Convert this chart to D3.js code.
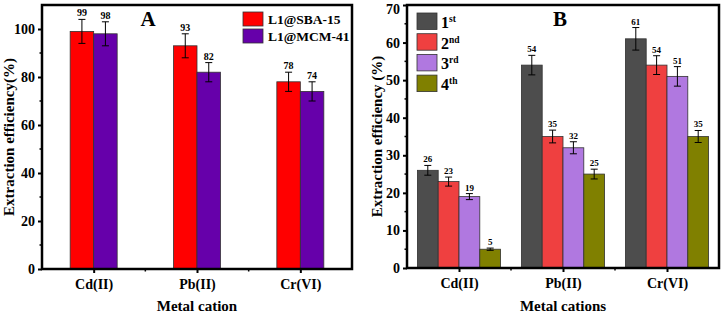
<!DOCTYPE html>
<html>
<head>
<meta charset="utf-8">
<script src="https://cdn.jsdelivr.net/npm/d3@7"></script>
<style>
  body { margin: 0; background: #fff; }
  svg text { font-family: "Liberation Serif", "Times New Roman", serif; font-weight: bold; fill: #000; }
</style>
</head>
<body>
<script>
'use strict';

// panel A data
const metalsA = ["Cd(II)", "Pb(II)", "Cr(VI)"];
const seriesA = ["L1@SBA-15", "L1@MCM-41"];
const sbaValues = [99, 93, 78];
const sbaErrors = [5, 5, 4];
const mcmValues = [98, 82, 74];
const mcmErrors = [5, 4, 4];
const ticksA = [0, 20, 40, 60, 80, 100];

// panel B data
const metalsB = ["Cd(II)", "Pb(II)", "Cr(VI)"];
const cycles = [["1", "st"], ["2", "nd"], ["3", "rd"], ["4", "th"]];
const cycle1 = [26, 54, 61];
const cycle2 = [23, 35, 54];
const cycle3 = [19, 32, 51];
const cycle4 = [5, 25, 35];
const err1 = [1.3, 2.6, 3];
const err2 = [1.2, 1.7, 2.5];
const err3 = [0.8, 1.6, 2.6];
const err4 = [0.3, 1.3, 1.6];
const ticksB = [0, 10, 20, 30, 40, 50, 60, 70];

const svg = d3.select("body").append("svg")
  .attr("width", 723)
  .attr("height", 313);

// draw one panel (frame, axes, bars, error bars, value labels)
function drawPanel(p) {
  const x = d3.scaleLinear().domain([0.5, 3.5]).range([p.left, p.right]);
  const y = d3.scaleLinear().domain([0, p.yMax]).range([p.bottom, p.top]);
  const g = svg.append("g");
  const n = p.values.length;
  const barW = p.barW;

  p.values.forEach((vals, s) => {
    vals.forEach((v, i) => {
      const cx = x(i + 1) + (s - (n - 1) / 2) * barW;
      g.append("rect")
        .attr("x", cx - barW / 2)
        .attr("y", y(v))
        .attr("width", barW)
        .attr("height", y(0) - y(v))
        .attr("fill", p.colors[s])
        .attr("stroke", "#333")
        .attr("stroke-width", 0.8);
      const e = p.errors[s][i];
      g.append("line")
        .attr("x1", cx).attr("x2", cx)
        .attr("y1", y(v - e)).attr("y2", y(v + e))
        .attr("stroke", "#000").attr("stroke-width", 1);
      [v - e, v + e].forEach(ev => {
        g.append("line")
          .attr("x1", cx - 3.5).attr("x2", cx + 3.5)
          .attr("y1", y(ev)).attr("y2", y(ev))
          .attr("stroke", "#000").attr("stroke-width", 1);
      });
      g.append("text")
        .attr("x", cx)
        .attr("y", y(v + e) - 3)
        .attr("text-anchor", "middle")
        .style("font-size", p.valueSize + "px")
        .text(v);
    });
  });

  // frame
  g.append("rect")
    .attr("x", p.left).attr("y", p.top)
    .attr("width", p.right - p.left)
    .attr("height", p.bottom - p.top)
    .attr("fill", "none")
    .attr("stroke", "#000")
    .attr("stroke-width", 2.5);

  // y axis
  const yAxis = d3.axisLeft(y).tickValues(p.yTicks).tickSize(4).tickPadding(3);
  const ya = g.append("g").attr("transform", `translate(${p.left},0)`).call(yAxis);
  ya.select(".domain").remove();
  ya.selectAll("line").attr("stroke-width", 2);
  ya.selectAll("text").style("font-size", "14px");
  // keep the top label inside the picture
  ya.selectAll("text").filter(d => y(d) < 8).attr("dy", "0.6em");
  const minorY = d3.range(p.minorStep, p.yMax, p.minorStep * 2);
  g.selectAll(null).data(minorY).enter().append("line")
    .attr("x1", p.left - 2.5).attr("x2", p.left)
    .attr("y1", d => y(d)).attr("y2", d => y(d))
    .attr("stroke", "#000").attr("stroke-width", 1.5);

  // x axis
  const xAxis = d3.axisBottom(x).tickValues([1, 2, 3]).tickSize(4).tickPadding(6)
    .tickFormat((d, i) => p.categories[i]);
  const xa = g.append("g").attr("transform", `translate(0,${p.bottom})`).call(xAxis);
  xa.select(".domain").remove();
  xa.selectAll("line").attr("stroke-width", 2);
  xa.selectAll("text").style("font-size", "14px");
  g.selectAll(null).data([1.5, 2.5]).enter().append("line")
    .attr("x1", d => x(d)).attr("x2", d => x(d))
    .attr("y1", p.bottom).attr("y2", p.bottom + 2.5)
    .attr("stroke", "#000").attr("stroke-width", 1.5);

  // axis titles
  g.append("text")
    .attr("x", (p.left + p.right) / 2)
    .attr("y", 311)
    .attr("text-anchor", "middle")
    .style("font-size", "15px")
    .text(p.xTitle);
  g.append("text")
    .attr("transform", `translate(${p.yTitleX},${(p.top + p.bottom) / 2})rotate(-90)`)
    .attr("text-anchor", "middle")
    .style("font-size", "15px")
    .text(p.yTitle);

  // panel letter
  g.append("text")
    .attr("x", p.letterX)
    .attr("y", 26)
    .attr("text-anchor", "middle")
    .style("font-size", "21px")
    .text(p.letter);
}

drawPanel({
  left: 42, right: 352, top: 5, bottom: 269,
  yMax: 110, yTicks: ticksA, minorStep: 10,
  categories: metalsA,
  values: [sbaValues, mcmValues],
  errors: [sbaErrors, mcmErrors],
  colors: ["#ff0000", "#6600aa"],
  barW: 23.5, valueSize: 10,
  xTitle: "Metal cation", yTitle: "Extraction efficiency(%)", yTitleX: 14,
  letter: "A", letterX: 148
});

drawPanel({
  left: 407, right: 719, top: 5, bottom: 268,
  yMax: 70, yTicks: ticksB, minorStep: 5,
  categories: metalsB,
  values: [cycle1, cycle2, cycle3, cycle4],
  errors: [err1, err2, err3, err4],
  colors: ["#4d4d4d", "#ef4040", "#b078e0", "#808000"],
  barW: 20.8, valueSize: 9,
  xTitle: "Metal cations", yTitle: "Extraction efficiency (%)", yTitleX: 382,
  letter: "B", letterX: 560
});

// legend A
const legA = svg.append("g");
seriesA.forEach((name, i) => {
  legA.append("rect")
    .attr("x", 243).attr("y", 12 + i * 17)
    .attr("width", 20).attr("height", 14)
    .attr("fill", ["#ff0000", "#6600aa"][i])
    .attr("stroke", "#333").attr("stroke-width", 0.8);
  legA.append("text")
    .attr("x", 268).attr("y", 24 + i * 17)
    .style("font-size", "13.5px")
    .text(name);
});

// legend B
const legB = svg.append("g");
const colorsB = ["#4d4d4d", "#ef4040", "#b078e0", "#808000"];
cycles.forEach((c, i) => {
  legB.append("rect")
    .attr("x", 417).attr("y", 13 + i * 20.7)
    .attr("width", 20).attr("height", 16.5)
    .attr("fill", colorsB[i])
    .attr("stroke", "#333").attr("stroke-width", 0.8);
  const t = legB.append("text")
    .attr("x", 441).attr("y", 28 + i * 20.7)
    .style("font-size", "16px");
  t.append("tspan").text(c[0]);
  t.append("tspan").attr("dy", -6).style("font-size", "9.5px").text(c[1]);
});
</script>
</body>
</html>
